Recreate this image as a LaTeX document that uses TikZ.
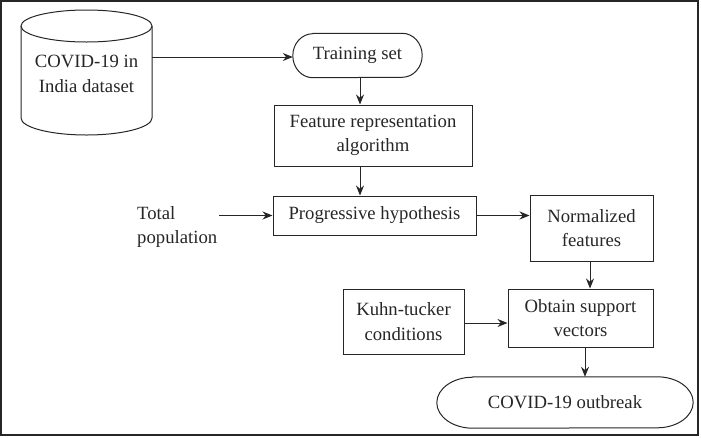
\documentclass[tikz,border=0pt]{standalone}
\usepackage{fontspec}
\setmainfont{Liberation Serif}
\usetikzlibrary{arrows.meta}
\definecolor{ink}{HTML}{262626}
\begin{document}
\begin{tikzpicture}[x=1pt,y=-1pt,
  every node/.style={font=\fontsize{18.7}{24.5}\selectfont, align=center, inner sep=0pt, text=ink},
  procbox/.style={draw=ink, line width=1pt, rectangle},
  conn/.style={draw=ink, line width=1pt, -{Stealth[length=10pt,width=8pt]}},
  outl/.style={draw=ink, line width=1pt}]
\useasboundingbox (0,0) rectangle (701,437);
\draw[outl, line width=1.3pt] (1,1) rectangle (698,435);
% cylinder
\node[minimum width=131pt, minimum height=60pt] (db) at (86.5,74) {COVID-19 in\\India dataset};
\draw[outl] (86.5,26) ellipse [x radius=65.5pt, y radius=16pt];
\draw[outl] (21,26) -- (21,118) arc[start angle=180, end angle=360, x radius=65.5pt, y radius=17pt] -- (152,26);
% training set (stadium)
\node[minimum width=129pt, minimum height=44pt] (tr) at (357.5,55.5) {Training set};
\draw[outl] ([xshift=20pt]tr.north west) -- ([xshift=-20pt]tr.north east)
  arc[start angle=90, end angle=-90, x radius=20pt, y radius=22pt]
  -- ([xshift=20pt]tr.south west)
  arc[start angle=270, end angle=90, x radius=20pt, y radius=22pt] -- cycle;
\node[procbox, minimum width=198pt, minimum height=61pt] (fr) at (373,135.5) {Feature representation\\algorithm};
\node[procbox, minimum width=203pt, minimum height=39pt] (ph) at (374.5,215.5) {Progressive hypothesis};
\node[align=left, anchor=west] (tp) at (137,227) {Total\\population};
\coordinate (tpa) at (219,215.5);
\node[procbox, minimum width=123pt, minimum height=66pt] (nf) at (591.5,228) {Normalized\\features};
\node[procbox, minimum width=145pt, minimum height=58pt] (ob) at (580.5,318) {Obtain support\\vectors};
\node[procbox, minimum width=121pt, minimum height=65pt] (kt) at (403.5,321.5) {Kuhn-tucker\\conditions};
% outbreak (stadium with elliptic ends)
\node[minimum width=256pt, minimum height=51pt] (out) at (565,402.5) {COVID-19 outbreak};
\draw[outl] ([xshift=36pt]out.north west) -- ([xshift=-36pt]out.north east)
  arc[start angle=90, end angle=-90, x radius=36pt, y radius=25.5pt]
  -- ([xshift=36pt]out.south west)
  arc[start angle=270, end angle=90, x radius=36pt, y radius=25.5pt] -- cycle;
% connectors
\coordinate (trx) at (360,0);
\draw[conn] (db.east |- 0,57) -- (tr.west |- 0,57);
\draw[conn] (trx |- tr.south) -- (trx |- fr.north);
\draw[conn] (trx |- fr.south) -- (trx |- ph.north);
\draw[conn] (tpa) -- (ph.west);
\draw[conn] (ph.east) -- (ph.east -| nf.west);
\draw[conn] ([xshift=-1.5pt]nf.south) -- ([xshift=-1.5pt]nf.south |- ob.north);
\draw[conn] ([yshift=-1.5pt]kt.east) -- ([yshift=-1.5pt]kt.east -| ob.west);
\draw[conn] ([xshift=4.5pt]ob.south) -- ([xshift=4.5pt]ob.south |- out.north);
\end{tikzpicture}
\end{document}
